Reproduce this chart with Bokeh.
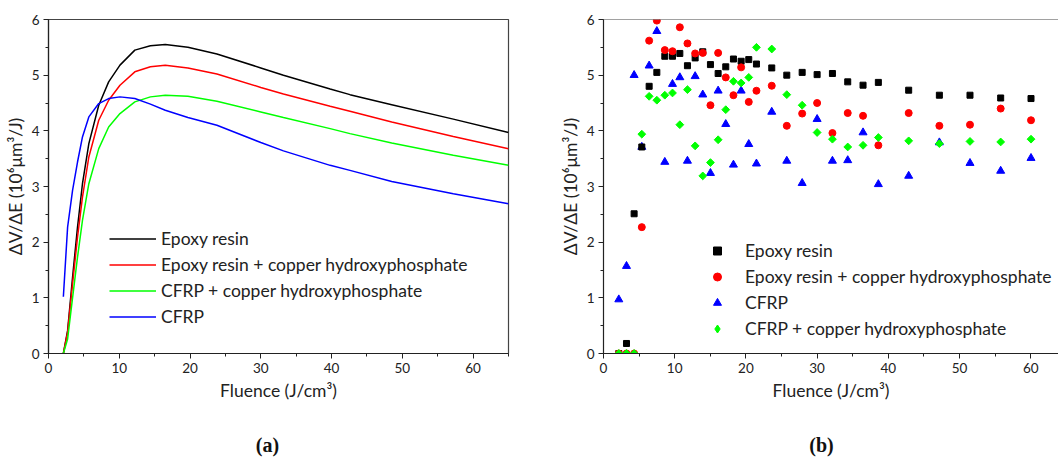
from bokeh.plotting import figure
from bokeh.layouts import row, column
from bokeh.models import (Legend, LegendItem, Span, SingleIntervalTicker, Range1d, Label,
                          ColumnDataSource)
from bokeh.embed import file_html
from bokeh.resources import INLINE
import math

# ---------------- Panel (a): fitted curves ----------------
fit_x = [2.1, 2.7, 3.4, 4.1, 4.8, 5.7, 7.1, 8.5, 10.1, 12.2, 14.4, 16.5, 19.7,
         23.8, 30.0, 33.2, 39.8, 42.6, 48.5, 57.2, 65.0]
epoxy_fit = [0.0, 0.41, 1.37, 2.27, 3.05, 3.77, 4.46, 4.88, 5.18, 5.45, 5.53, 5.55, 5.50,
             5.38, 5.13, 5.00, 4.75, 4.65, 4.47, 4.21, 3.97]
epoxy_cu_fit = [0.0, 0.38, 1.25, 2.09, 2.81, 3.53, 4.19, 4.55, 4.82, 5.06, 5.15, 5.18, 5.13,
                5.02, 4.78, 4.66, 4.44, 4.35, 4.16, 3.90, 3.68]
cfrp_cu_fit = [0.0, 0.26, 1.00, 1.73, 2.39, 3.05, 3.68, 4.07, 4.31, 4.52, 4.61, 4.64, 4.62,
               4.53, 4.34, 4.24, 4.04, 3.95, 3.78, 3.56, 3.38]
cfrp_fit = [1.02, 2.27, 2.93, 3.44, 3.89, 4.25, 4.49, 4.58, 4.61, 4.58, 4.48, 4.37, 4.24,
            4.10, 3.79, 3.64, 3.38, 3.29, 3.09, 2.87, 2.69]

# ---------------- Panel (b): measured points ----------------
fluence = [2.15, 3.23, 4.3, 5.38, 6.41, 7.49, 8.61, 9.69, 10.72, 11.79, 12.87, 13.94,
           15.02, 16.10, 17.17, 18.25, 19.33, 20.4, 21.48, 23.63, 25.74, 27.9, 30.0,
           32.15, 34.3, 36.45, 38.6, 42.86, 47.17, 51.47, 55.78, 60.04]
epoxy_pts = [0, 0.18, 2.51, 3.71, 4.80, 5.05, 5.34, 5.34, 5.39, 5.17, 5.31, 5.42,
             5.19, 5.03, 5.15, 5.29, 5.25, 5.28, 5.20, 5.13, 5.00, 5.05, 5.01,
             5.03, 4.88, 4.82, 4.87, 4.73, 4.64, 4.64, 4.59, 4.58]
epoxy_cu_pts = [0, 0, 0, 2.27, 5.62, 5.98, 5.45, 5.43, 5.86, 5.57, 5.39, 5.40,
                4.46, 5.40, 4.96, 4.64, 5.14, 4.52, 4.72, 4.81, 4.09, 4.31, 4.50,
                3.96, 4.32, 4.27, 3.74, 4.32, 4.09, 4.11, 4.40, 4.19]
cfrp_pts = [0.97, 1.57, 5.0, 3.71, 5.17, 5.79, 3.44, 4.84, 4.96, 3.46, 4.98, 4.65,
            3.24, 4.72, 4.12, 3.39, 4.72, 3.76, 3.41, 4.34, 3.46, 3.06, 4.21,
            3.46, 3.47, 3.97, 3.04, 3.19, 3.79, 3.42, 3.28, 3.51]
cfrp_cu_pts = [0, 0, 0, 3.94, 4.62, 4.55, 4.64, 4.68, 4.11, 4.74, 3.73, 3.19,
               3.43, 3.84, 4.38, 4.89, 4.86, 4.96, 5.50, 5.47, 4.65, 4.46, 3.97,
               3.85, 3.71, 3.74, 3.88, 3.82, 3.77, 3.81, 3.80, 3.85]

labels = ["Epoxy resin", "Epoxy resin + copper hydroxyphosphate",
          "CFRP + copper hydroxyphosphate", "CFRP"]
panel_tags = ["(a)", "(b)"]
BLACK, RED, GREEN, BLUE = "#000000", "#ff0000", "#00ff00", "#0000ff"
FONT = "Lato"
AXC = "#222222"

x_title = "Fluence (J/cm³)"
y_title = "ΔV/ΔE (10⁶μm³/J)"


def style(p):
    p.xgrid.visible = False
    p.ygrid.visible = False
    p.xaxis.ticker = SingleIntervalTicker(interval=10, num_minor_ticks=2)
    p.yaxis.ticker = SingleIntervalTicker(interval=1, num_minor_ticks=2)
    for ax in (p.xaxis[0], p.yaxis[0]):
        ax.axis_line_color = AXC
        ax.axis_line_width = 1.2
        ax.major_tick_line_color = AXC
        ax.minor_tick_line_color = AXC
        ax.major_tick_in = 0
        ax.major_tick_out = 5
        ax.minor_tick_in = 0
        ax.minor_tick_out = 3
        ax.major_label_text_font = FONT
        ax.major_label_text_font_size = "13.5px"
        ax.major_label_text_color = AXC
        ax.axis_label_text_font = FONT
        ax.axis_label_text_font_size = "17.5px"
        ax.axis_label_text_font_style = "normal"
        ax.axis_label_text_color = AXC
        ax.major_label_standoff = 4
        ax.axis_label_standoff = 4
    p.yaxis.axis_label_standoff = 3
    p.xaxis.axis_label = x_title
    p.yaxis.axis_label = y_title
    p.background_fill_color = "white"
    p.border_fill_color = "white"


def tag_fig(width, text, cx):
    t = figure(width=width, height=TAG_H, output_backend="svg", toolbar_location=None,
               x_range=Range1d(0, width), y_range=Range1d(0, TAG_H),
               x_axis_location=None, y_axis_location=None,
               min_border=0, min_border_left=0, min_border_right=0,
               min_border_top=0, min_border_bottom=0)
    t.outline_line_color = None
    t.xgrid.visible = False
    t.ygrid.visible = False
    t.add_layout(Label(x=cx, y=13, x_units="screen", y_units="screen", text=text,
                       text_align="center", text_baseline="middle",
                       text_font="Liberation Serif", text_font_size="20px",
                       text_font_style="bold", text_color="#111111"))
    return t


H = 428
TAG_H = 29
WA, WB = 530, 528

# ----- left figure -----
pa = figure(width=WA, height=H, output_backend="svg", toolbar_location=None,
            x_range=Range1d(0, 65), y_range=Range1d(0, 6),
            min_border_left=48, min_border_right=22, min_border_top=19, min_border_bottom=75)
style(pa)
pa.outline_line_color = "#444444"
pa.outline_line_width = 1.2

r_e = pa.line(fit_x, epoxy_fit, line_color=BLACK, line_width=1.5)
r_ec = pa.line(fit_x, epoxy_cu_fit, line_color=RED, line_width=1.5)
r_cc = pa.line(fit_x, cfrp_cu_fit, line_color=GREEN, line_width=1.5)
r_c = pa.line(fit_x, cfrp_fit, line_color=BLUE, line_width=1.5)

leg_a = Legend(items=[LegendItem(label=labels[0], renderers=[r_e]),
                      LegendItem(label=labels[1], renderers=[r_ec]),
                      LegendItem(label=labels[2], renderers=[r_cc]),
                      LegendItem(label=labels[3], renderers=[r_c])],
               location=(61, 26), glyph_width=47, glyph_height=21, label_height=21,
               spacing=5, padding=0, margin=0, label_standoff=5,
               border_line_color=None, background_fill_alpha=0,
               label_text_font=FONT, label_text_font_size="17.5px", label_text_color=AXC)
pa.add_layout(leg_a)

# ----- right figure -----
pb = figure(width=WB, height=H, output_backend="svg", toolbar_location=None,
            x_range=Range1d(0, 63.9), y_range=Range1d(0, 6),
            min_border_left=73, min_border_right=0, min_border_top=19, min_border_bottom=75)
style(pb)
pb.outline_line_color = None
pb.add_layout(Span(location=6, dimension="width", line_color="#444444", line_width=1.2))
# range far outside the frame, used only so the legend-only diamond glyph is not drawn in the plot
pb.extra_y_ranges = {"legend_only": Range1d(100, 106)}

green_src = ColumnDataSource(dict(x=fluence, y=cfrp_cu_pts))
s_c = pb.scatter(fluence, cfrp_pts, marker="triangle", size=8, fill_color=BLUE, line_color=BLUE)
s_e = pb.scatter(fluence, epoxy_pts, marker="square", size=6, fill_color=BLACK, line_color=BLACK)
s_ec = pb.scatter(fluence, epoxy_cu_pts, marker="circle", size=7, fill_color=RED, line_color=RED)
s_cc = pb.scatter("x", "y", source=green_src, marker="square", size=5.5, angle=math.pi / 4,
                  fill_color=GREEN, line_color=GREEN)
s_cc_leg = pb.scatter("x", "y", source=green_src, y_range_name="legend_only",
                      marker="diamond", size=10, fill_color=GREEN, line_color=GREEN)

leg_b = Legend(items=[LegendItem(label=labels[0], renderers=[s_e]),
                      LegendItem(label=labels[1], renderers=[s_ec]),
                      LegendItem(label="CFRP", renderers=[s_c]),
                      LegendItem(label="CFRP + copper hydroxyphosphate", renderers=[s_cc_leg])],
               location=(104, 14), glyph_width=20, glyph_height=21, label_height=21,
               spacing=5, padding=0, margin=0, label_standoff=18,
               border_line_color=None, background_fill_alpha=0,
               label_text_font=FONT, label_text_font_size="17.5px", label_text_color=AXC)
pb.add_layout(leg_b)

ta = tag_fig(WA, panel_tags[0], 267)
tb = tag_fig(WB, panel_tags[1], 291)

layout = column(row(pa, pb, spacing=0), row(ta, tb, spacing=0), spacing=0)

open("out.html", "w").write(file_html(layout, INLINE))
